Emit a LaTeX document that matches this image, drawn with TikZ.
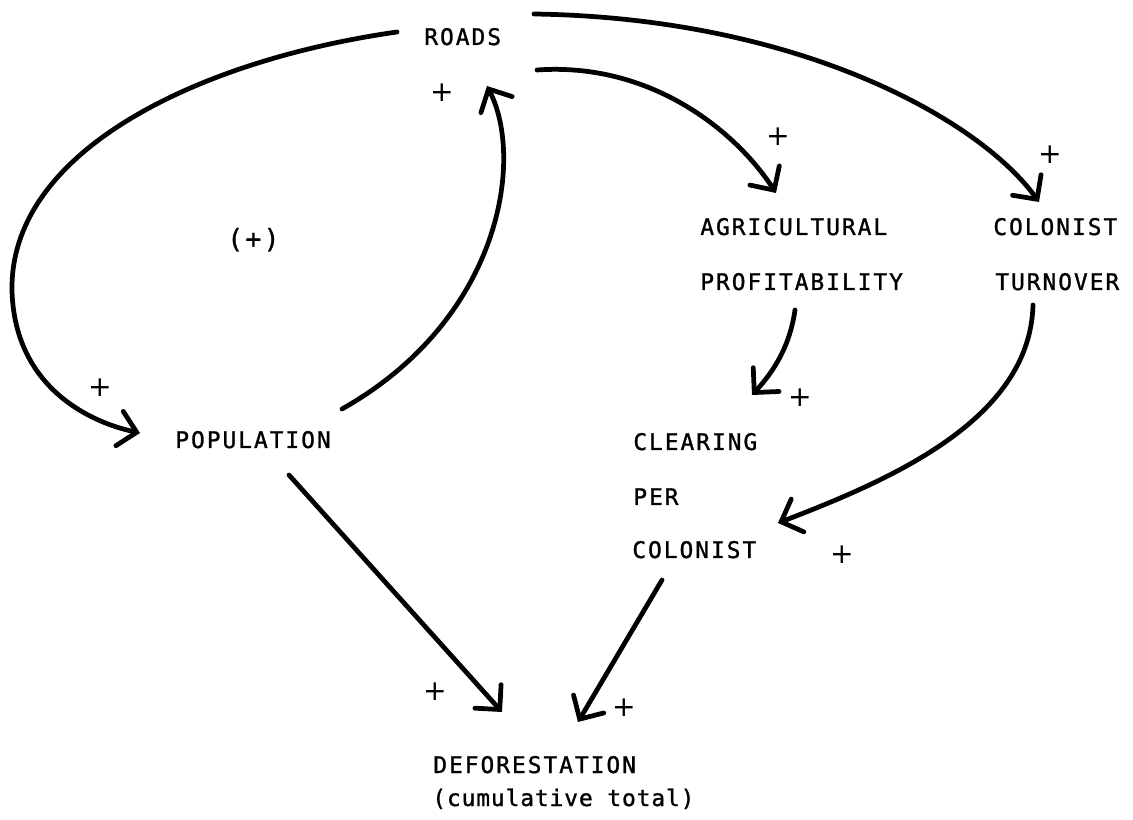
\documentclass[tikz,border=0pt]{standalone}
\usepackage{fontspec}
\usetikzlibrary{arrows.meta}
\newfontfamily\lblfont[LetterSpace=8.7,FakeBold=1.2]{DejaVu Sans Mono}
\newfontfamily\lblfontnarrow[LetterSpace=4,FakeBold=1.2]{DejaVu Sans Mono}
\newfontfamily\plusfont{DejaVu Sans}
\begin{document}
\begin{tikzpicture}[x=0.02cm,y=-0.02cm,
  lbl/.style={font=\lblfont\fontsize{13}{15}\selectfont, inner sep=0pt, anchor=base west},
  sgn/.style={font=\plusfont\fontsize{16}{16}\selectfont, inner sep=0pt},
  link/.style={line width=2.7pt, line cap=round,
    -{Straight Barb[length=10pt,width=20pt,line cap=round]}}]
\fill[white] (0,0) rectangle (1133,820);
% labels
\node[lbl] (roads) at (424,45) {ROADS};
\node[lbl] (pop) at (175,448) {POPULATION};
\node[lbl] (agri) at (700,235) {AGRICULTURAL};
\node[lbl] (agri2) at (700,290) {PROFITABILITY};
\node[lbl] (turn) at (993,235) {COLONIST};
\node[lbl] (turn2) at (995,290) {TURNOVER};
\node[lbl] (clear) at (633,450) {CLEARING};
\node[lbl] (clear2) at (633,505) {PER};
\node[lbl] (clear3) at (632,558) {COLONIST};
\node[lbl] (def) at (433,773) {DEFORESTATION};
\node[lbl, font=\lblfontnarrow\fontsize{13}{15}\selectfont] (def2) at (432,806) {(cumulative total)};
\node[lbl, font=\lblfont\fontsize{15}{17}\selectfont] (loop) at (227,248) {(+)};
% signs
\node[sgn] (s1) at (442,93) {+};
\node[sgn] (s2) at (778,137) {+};
\node[sgn] (s3) at (1050,155) {+};
\node[sgn] (s4) at (100,388) {+};
\node[sgn] (s5) at (800,398) {+};
\node[sgn] (s6) at (842,555) {+};
\node[sgn] (s7) at (435,692) {+};
\node[sgn] (s8) at (624,708) {+};
% connectors
\draw[link] ([shift={(-27,-13)}]roads.base west)
  .. controls (200,60) and (10,150) .. (12,290)
  .. controls (14,380) and (80,420) .. ([shift={(-35,-15)}]pop.base west);
\draw[link] ([shift={(167,-39)}]pop.base west)
  .. controls (500,320) and (525,160) .. ([shift={(63,41)}]roads.base west);
\draw[link] ([shift={(113,25)}]roads.base west)
  .. controls (650,62) and (735,130) .. ([shift={(76,-42)}]agri.base west);
\draw[link] ([shift={(110,-31)}]roads.base west)
  .. controls (800,18) and (980,120) .. ([shift={(46,-33)}]turn.base west);
\draw[link] ([shift={(95,20)}]agri2.base west)
  .. controls (790,345) and (775,370) .. ([shift={(119,-55)}]clear.base west);
\draw[link] ([shift={(38,15)}]turn2.base west)
  .. controls (1030,420) and (890,480) .. ([shift={(146,-35)}]clear3.base west);
\draw[link] ([shift={(114,27)}]pop.base west) -- ([shift={(69,-61)}]def.base west);
\draw[link] ([shift={(30,22)}]clear3.base west) -- ([shift={(145,-51)}]def.base west);
\end{tikzpicture}
\end{document}
